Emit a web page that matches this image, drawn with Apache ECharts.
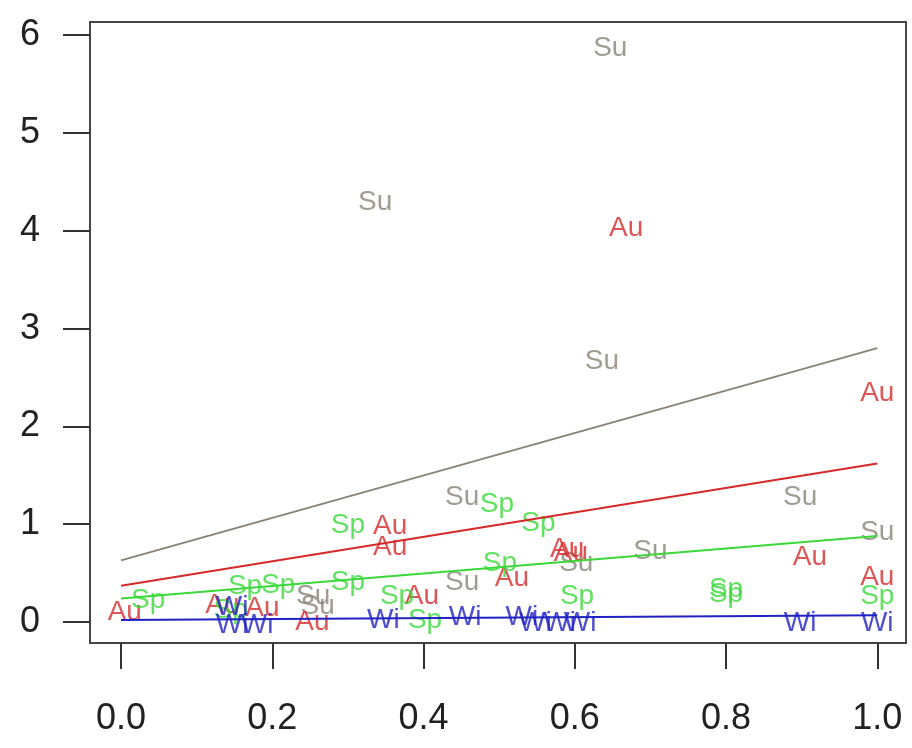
<!DOCTYPE html>
<html>
<head>
<meta charset="utf-8">
<script src="https://cdn.jsdelivr.net/npm/echarts@6/dist/echarts.min.js"></script>
<style>
  html, body { margin: 0; padding: 0; background: #fff; }
  #chart { width: 912px; height: 748px; }
</style>
</head>
<body>
<div id="chart"></div>
<script>
// points per season, [x, y]
var suPoints = [[0.647, 5.87], [0.336, 4.29], [0.636, 2.67], [0.451, 1.28], [0.898, 1.28],
    [1.0, 0.92], [0.70, 0.72], [0.602, 0.60], [0.451, 0.41], [0.254, 0.26], [0.26, 0.16]];
var auPoints = [[0.668, 4.03], [1.0, 2.34], [0.356, 0.98], [0.356, 0.76], [0.59, 0.74],
    [0.595, 0.70], [0.517, 0.45], [0.911, 0.66], [1.0, 0.46], [0.398, 0.26], [0.005, 0.10],
    [0.134, 0.17], [0.187, 0.14], [0.253, 0.0]];
var spPoints = [[0.497, 1.20], [0.552, 1.01], [0.30, 0.99], [0.501, 0.60], [0.30, 0.41],
    [0.365, 0.26], [0.402, 0.02], [0.603, 0.26], [0.80, 0.33], [0.80, 0.28], [1.0, 0.26],
    [0.036, 0.22], [0.164, 0.36], [0.208, 0.38], [0.145, 0.12]];
var wiPoints = [[0.347, 0.02], [0.455, 0.05], [0.53, 0.05], [0.548, -0.01], [0.58, -0.01],
    [0.607, -0.01], [0.898, -0.01], [1.0, -0.01], [0.147, -0.03], [0.18, -0.03], [0.147, 0.15]];

// fitted lines, value at x = 0 and x = 1
var suFit = [[0, 0.63], [1, 2.80]];
var auFit = [[0, 0.37], [1, 1.62]];
var spFit = [[0, 0.24], [1, 0.88]];
var wiFit = [[0, 0.02], [1, 0.07]];

var xTicks = [0, 0.2, 0.4, 0.6, 0.8, 1.0];
var yTicks = [0, 1, 2, 3, 4, 5, 6];

var colors = {Su: '#8a8376', Au: '#d42a2a', Sp: '#3ad83a', Wi: '#2222c4'};
var FONT = 'Liberation Sans';

function textSeries(name, pts) {
    return {
        name: name,
        type: 'scatter',
        data: pts,
        symbolSize: 0,
        itemStyle: {color: 'rgba(0,0,0,0)'},
        label: {
            show: true,
            position: 'inside',
            formatter: name,
            color: colors[name],
            fontSize: 28,
            fontFamily: FONT
        },
        silent: true
    };
}

function fitSeries(name, pts) {
    return {
        name: name + ' fit',
        type: 'line',
        data: pts,
        showSymbol: false,
        lineStyle: {color: colors[name], width: 2},
        silent: true
    };
}

var myChart = echarts.init(document.getElementById('chart'));
var option = {
    animation: false,
    grid: {
        left: 90, right: 6, top: 22, bottom: 105,
        show: true,
        borderColor: '#444',
        borderWidth: 2,
        backgroundColor: '#fff'
    },
    xAxis: {
        type: 'value',
        min: -0.041,
        max: 1.038,
        axisLine: {show: false, onZero: false},
        splitLine: {show: false},
        axisTick: {
            show: true,
            length: 26,
            customValues: xTicks,
            lineStyle: {color: '#333', width: 2}
        },
        axisLabel: {
            customValues: xTicks,
            margin: 58,
            color: '#222',
            fontSize: 36,
            fontFamily: FONT,
            formatter: function (v) { return v.toFixed(1); }
        }
    },
    yAxis: {
        type: 'value',
        min: -0.215,
        max: 6.135,
        axisLine: {show: false, onZero: false},
        splitLine: {show: false},
        axisTick: {
            show: true,
            length: 27,
            customValues: yTicks,
            lineStyle: {color: '#333', width: 2}
        },
        axisLabel: {
            customValues: yTicks,
            margin: 50,
            color: '#222',
            fontSize: 36,
            fontFamily: FONT
        }
    },
    series: [
        textSeries('Su', suPoints),
        textSeries('Au', auPoints),
        textSeries('Sp', spPoints),
        textSeries('Wi', wiPoints),
        fitSeries('Su', suFit),
        fitSeries('Au', auFit),
        fitSeries('Sp', spFit),
        fitSeries('Wi', wiFit)
    ]
};
myChart.setOption(option);
</script>
</body>
</html>
